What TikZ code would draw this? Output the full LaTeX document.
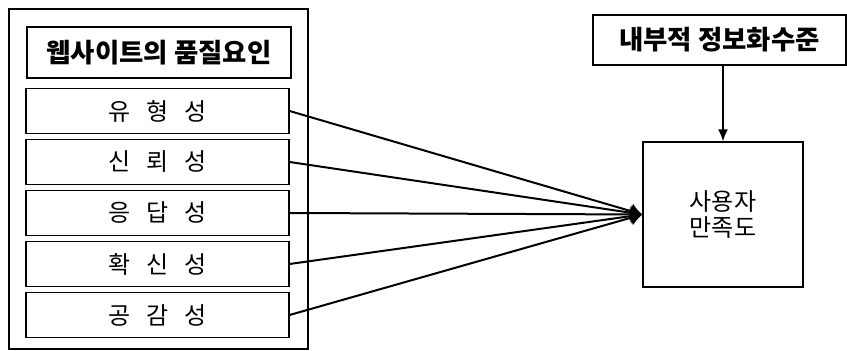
\documentclass[tikz,border=0pt]{standalone}
\usepackage{fontspec}
\setmainfont{Noto Sans CJK KR}
\newfontfamily\spacedfont[WordSpace=3]{Noto Sans CJK KR}
\usetikzlibrary{arrows.meta, positioning, calc}

\begin{document}
\begin{tikzpicture}[x=0.5pt, y=-0.5pt,
  box/.style={draw, line width=0.6pt, inner sep=0pt, align=center},
  factor/.style={box, minimum width=131.5pt, minimum height=22.5pt, font=\spacedfont\fontsize{12}{14}\selectfont},
  link/.style={line width=1pt, -{Latex[length=6pt, width=8pt]}}]

% Background
\useasboundingbox (0,0) rectangle (847,351);
\draw[line width=1pt] (9,9) rectangle (308,349);

% Quality factors
\node[box, minimum width=132pt, minimum height=25.5pt, font=\bfseries\fontsize{13.2}{15}\selectfont]
  (title) at (159,52.5) {웹사이트의 품질요인};
\foreach \name/\txt [count=\i from 0] in {tangible/유 형 성, reliable/신 뢰 성, response/응 답 성, assure/확 신 성, empathy/공 감 성} {
  \node[factor] (\name) at (157.5,111+51*\i) {\txt};
}

% Right side
\node[box, minimum width=126.5pt, minimum height=25pt, font=\bfseries\fontsize{13.2}{15}\selectfont]
  (info) at (719.5,40) {내부적 정보화수준};
\node[box, minimum width=80pt, minimum height=72.5pt, font=\fontsize{12}{13}\selectfont]
  (sat) at (723,214.5) {사용자\\만족도};

% Links
\foreach \name in {tangible, reliable, response, assure, empathy} {
  \draw[link] (\name.east) -- (sat.west);
}
\draw[link, -{Latex[length=6pt, width=5pt]}] (sat.north |- info.south) -- (sat.north);

\end{tikzpicture}
\end{document}
